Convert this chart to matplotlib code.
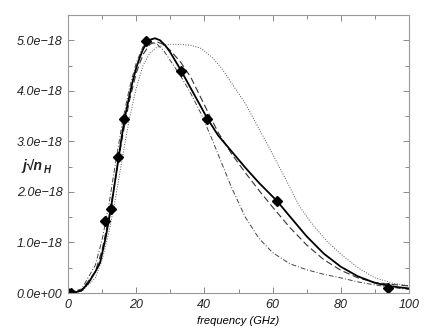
import matplotlib

matplotlib.use("Agg")
import matplotlib.pyplot as plt

plt.rcParams["font.family"] = ["Liberation Sans", "DejaVu Sans"]

# datos (emisividad en unidades de 1e-18)
SCALE = 1e-18

obs_freq = [0.0, 1.0, 10.9, 12.6, 14.7, 16.4, 22.9, 33.1, 40.8, 61.3, 93.8]
obs_j = [0.0, 0.0, 1.42, 1.66, 2.69, 3.44, 4.98, 4.39, 3.44, 1.82, 0.10]

solid_freq = [0, 2, 4, 6, 8, 9.4, 10, 11, 12, 13, 14, 15, 16, 17, 18, 19, 20, 21, 22, 23, 24,
              25.5, 27, 28.5, 30, 33, 36, 38.7, 40.8, 44, 48, 52, 56, 61.3, 65, 70, 75,
              80, 85, 90, 95, 100]
solid_j = [0, 0.01, 0.05, 0.2, 0.42, 0.6, 0.78, 1.08, 1.45, 1.85, 2.3, 2.75, 3.2, 3.58, 3.9,
           4.2, 4.45, 4.65, 4.82, 4.94, 5.01, 5.04, 5.0, 4.9, 4.76, 4.42, 4.05, 3.72, 3.46,
           3.12, 2.8, 2.48, 2.18, 1.82, 1.52, 1.12, 0.78, 0.52, 0.33, 0.2, 0.13, 0.09]

dash_freq = [0, 4, 8, 10, 12, 14, 16, 18, 20, 22, 24, 26, 28, 30, 33, 36, 40, 44, 48, 52,
             56, 60, 65, 70, 75, 80, 85, 90, 95, 100]
dash_j = [0, 0.06, 0.42, 0.85, 1.5, 2.3, 3.1, 3.8, 4.35, 4.72, 4.92, 4.97, 4.92, 4.8, 4.57,
          4.27, 3.72, 3.18, 2.75, 2.38, 2.03, 1.7, 1.3, 0.95, 0.66, 0.45, 0.3, 0.21, 0.17, 0.14]

dashdot_freq = [0, 4, 8, 10, 12, 14, 16, 18, 20, 22, 24, 26, 28, 30, 33, 36, 39, 42, 45, 48,
                52, 56, 60, 65, 70, 75, 80, 85, 90, 95, 100]
dashdot_j = [0, 0.08, 0.55, 1.05, 1.75, 2.6, 3.4, 4.05, 4.55, 4.88, 4.97, 4.93, 4.8, 4.6,
             4.3, 3.95, 3.55, 3.08, 2.58, 2.08, 1.5, 1.08, 0.8, 0.58, 0.46, 0.37, 0.3, 0.22,
             0.16, 0.11, 0.07]

dot_freq = [0, 4, 8, 10, 12, 14, 16, 18, 20, 22, 24, 26, 28, 30, 33, 36, 39, 42, 45, 48, 52,
            56, 60, 64, 68, 72, 76, 80, 85, 90, 95, 100]
dot_j = [0, 0.03, 0.3, 0.65, 1.2, 1.9, 2.7, 3.45, 4.05, 4.5, 4.75, 4.86, 4.9, 4.92, 4.92,
         4.9, 4.84, 4.68, 4.45, 4.15, 3.75, 3.25, 2.75, 2.23, 1.7, 1.33, 1.02, 0.77, 0.5,
         0.3, 0.2, 0.14]

yticks = [0, 1, 2, 3, 4, 5]
ytick_labels = ["0.0e+00", "1.0e\u221218", "2.0e\u221218", "3.0e\u221218",
                "4.0e\u221218", "5.0e\u221218"]
xticks = [0, 20, 40, 60, 80, 100]


def s(vals):
    return [v * SCALE for v in vals]


fig = plt.figure(figsize=(4.29, 3.30), dpi=100)
ax = fig.add_axes([0.1585, 0.1121, 0.7949, 0.8424])

ax.plot(dot_freq, s(dot_j), color="#555555", lw=0.7, ls=(0, (1, 1.6)))
ax.plot(dashdot_freq, s(dashdot_j), color="#444444", lw=0.7, ls=(0, (5, 2, 1, 2)))
ax.plot(dash_freq, s(dash_j), color="#333333", lw=0.8, ls=(0, (6, 3)))
ax.plot(solid_freq, s(solid_j), color="black", lw=1.3)
ax.plot(obs_freq, s(obs_j), ls="none", marker="D", ms=5.5, color="black")

ax.set_xlim(0, 100)
ax.set_ylim(0, 5.5 * SCALE)
ax.set_xticks(xticks)
ax.set_xticks(range(10, 100, 20), minor=True)
ax.set_xticklabels([str(x) for x in xticks], fontstyle="italic", fontsize=9)
ax.set_yticks(s(yticks))
ax.set_yticks(s([0.5, 1.5, 2.5, 3.5, 4.5]), minor=True)
ax.set_yticklabels(ytick_labels, fontstyle="italic", fontsize=9)

for side in ax.spines.values():
    side.set_color("#999999")
    side.set_linewidth(0.8)
ax.tick_params(which="both", direction="in", top=True, right=True, color="#888888",
               width=0.7, labelcolor="#222222")
ax.tick_params(which="major", length=4, pad=4)
ax.tick_params(which="minor", length=3)

ax.set_xlabel("frequency (GHz)", fontstyle="italic", fontsize=8, labelpad=4)

# etiqueta del eje y: j_nu / n_H
fig.text(0.052, 0.497, "j\u221an", fontsize=10, fontweight="bold", fontstyle="italic",
         ha="left", va="center", color="#222222")
fig.text(0.103, 0.484, "H", fontsize=7, fontweight="bold", fontstyle="italic",
         ha="left", va="center", color="#222222")

fig.savefig("out.png", dpi=100)
